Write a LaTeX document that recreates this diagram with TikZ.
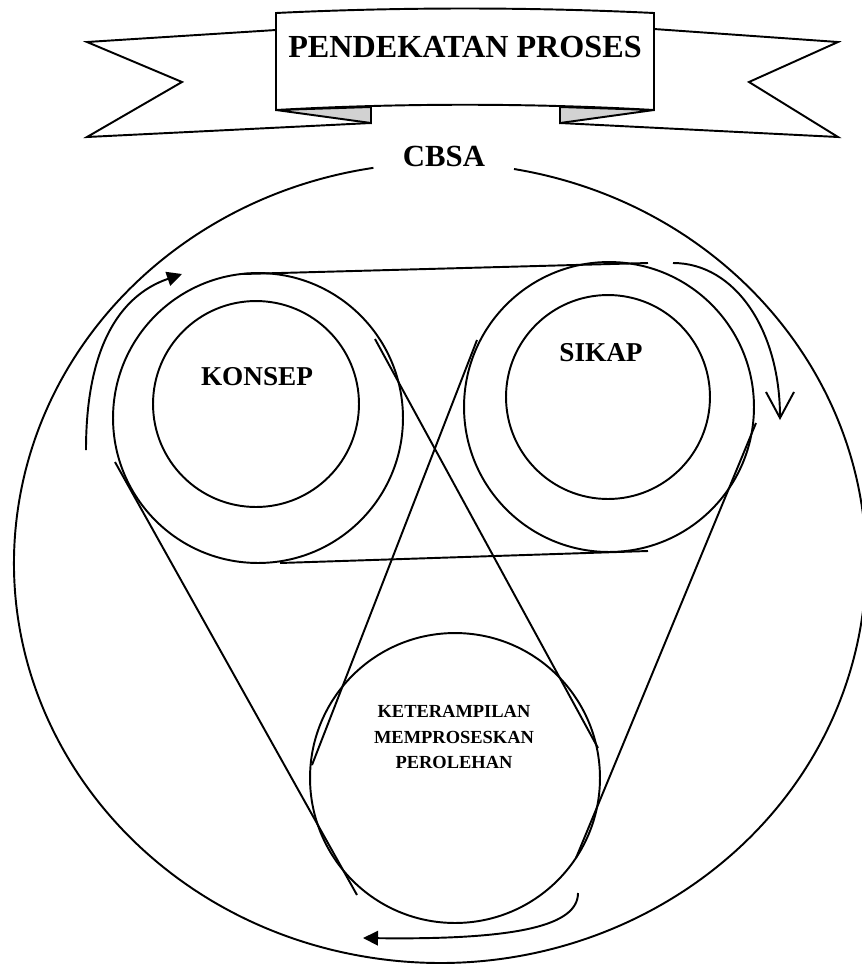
\documentclass[tikz,border=0pt]{standalone}
\usepackage{fontspec}
\setmainfont{Liberation Serif}
\usepackage{tikz}
\usetikzlibrary{arrows.meta}

\begin{document}
\begin{tikzpicture}[x=0.02cm, y=-0.02cm]
    % Style definitions
    \tikzset{
        ink/.style={black, line width=1.1pt},
        ring/.style={circle, draw=black, line width=1.1pt, inner sep=0pt},
        ringtext/.style={font=\bfseries\fontsize{15.5}{18}\selectfont},
        flap/.style={black, line width=1.1pt, fill=gray!35},
        solidhead/.style={-{Triangle[length=0.3cm, width=0.29cm]}},
        openhead/.style={-{Straight Barb[length=0.52cm, width=0.56cm]}}
    }
    \useasboundingbox (0,0) rectangle (862,968);

    % ==========================================
    % BANNER
    % ==========================================
    % Tails behind the panel:
    \draw[ink] (276,30) -- (87,42) -- (182,82) -- (87,137) -- (371,123);
    \draw[ink] (654,29) -- (838,42) -- (749,82) -- (838,137) -- (560,123);
    \draw[flap] (276,110) -- (371,107) -- (371,123) -- cycle;
    \draw[flap] (654,110) -- (560,107) -- (560,123) -- cycle;
    % Front panel:
    \draw[ink, fill=white] (276,13) .. controls (400,7) and (530,7) .. (654,13)
        -- (654,110) .. controls (530,103) and (400,103) .. (276,110) -- cycle;
    \node[font=\bfseries\fontsize{18.3}{22}\selectfont] (title) at (465,47) {PENDEKATAN PROSES};

    % ==========================================
    % OUTER CIRCLE (CBSA)
    % ==========================================
    \node[font=\bfseries\fontsize{17.5}{21}\selectfont] (cbsa) at (444,156) {CBSA};
    \draw[ink] (514,169) arc[start angle=280, end angle=621, x radius=426, y radius=400];

    % ==========================================
    % THREE RINGS
    % ==========================================
    \node[ring, minimum size=5.8cm] (konsepOuter) at (258,418) {};
    \node[ring, minimum size=4.12cm] (konsepInner) at (256,404) {};
    \node[ring, minimum size=5.8cm] (sikapOuter) at (609,407) {};
    \node[ring, minimum size=4.08cm] (sikapInner) at (608,397) {};
    \node[ring, minimum size=5.8cm] (kps) at (455,778) {};

    \node[ringtext] (konsepText) at (257,377) {KONSEP};
    \node[ringtext] (sikapText) at (601,353) {SIKAP};
    \node[font=\bfseries\fontsize{10.5}{14.7}\selectfont, align=center] (kpsText) at (454,737)
        {KETERAMPILAN\\MEMPROSESKAN\\PEROLEHAN};

    % Belt ends
    \coordinate (topA) at (243,274);
    \coordinate (topB) at (648,263);
    \coordinate (botA) at (280,563);
    \coordinate (botB) at (648,551);
    \coordinate (crossA1) at (375,339);
    \coordinate (crossA2) at (598,748);
    \coordinate (crossB1) at (477,340);
    \coordinate (crossB2) at (312,765);
    \coordinate (leftA) at (115,462);
    \coordinate (leftB) at (357,895);
    \coordinate (rightA) at (756,423);
    \coordinate (rightB) at (576,858);

    % Belts:
    \draw[ink] (topA) -- (topB);
    \draw[ink] (botA) -- (botB);
    \draw[ink] (crossA1) -- (crossA2);
    \draw[ink] (crossB1) -- (crossB2);
    \draw[ink] (leftA) -- (leftB);
    \draw[ink] (rightA) -- (rightB);

    % ==========================================
    % DIRECTION ARROWS
    % ==========================================
    \coordinate (arrL1) at (86,450);
    \coordinate (arrL2) at (182,274);
    \coordinate (arrR1) at (673,263);
    \coordinate (arrR2) at (780,420);
    \coordinate (arrB1) at (578,893);
    \coordinate (arrB2) at (363,938);
    \draw[ink, solidhead] (arrL1) .. controls (86,350) and (118,296) .. (arrL2);
    \draw[ink, openhead] (arrR1) .. controls (735,263) and (780,330) .. (arrR2);
    \draw[ink, solidhead] (arrB1) .. controls (578,925) and (520,940) .. (arrB2);
\end{tikzpicture}
\end{document}
